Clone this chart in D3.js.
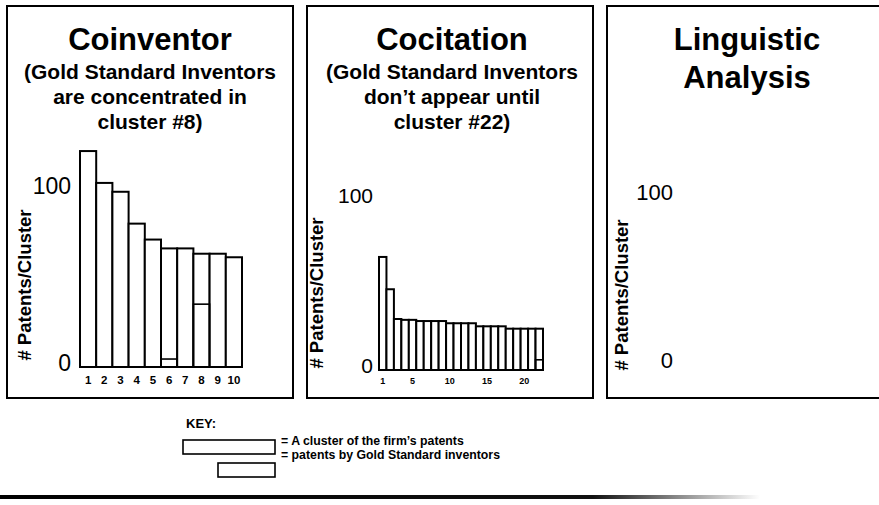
<!DOCTYPE html>
<html>
<head>
<meta charset="utf-8">
<script src="https://cdn.jsdelivr.net/npm/d3@7"></script>
<style>
  body { margin: 0; background: #fff; }
  svg { display: block; font-family: "Liberation Sans", Arial, sans-serif; }
</style>
</head>
<body>
<div id="chart"></div>
<script>
// cluster sizes
const coinventorClusters = [1, 2, 3, 4, 5, 6, 7, 8, 9, 10];
const coinventorCounts = [122, 104, 99, 81, 72, 67, 67, 64, 64, 62];
const coinventorGold = [0, 0, 0, 0, 0, 4.5, 0, 35.5, 0, 0];
const coinventorTicks = [1, 2, 3, 4, 5, 6, 7, 8, 9, 10];

const cocitationClusters = [1, 2, 3, 4, 5, 6, 7, 8, 9, 10, 11, 12, 13, 14, 15, 16, 17, 18, 19, 20, 21, 22];
const cocitationCounts = [66.5, 47.5, 30, 29.5, 29.5, 28.8, 28.8, 28.8, 28.8, 27.5, 27.5, 27.5, 27.5,
                          25.7, 25.7, 25.7, 25.7, 24.3, 24.3, 24.3, 24.3, 24.3];
const cocitationGold = [0, 0, 0, 0, 0, 0, 0, 0, 0, 0, 0, 0, 0, 0, 0, 0, 0, 0, 0, 0, 0, 6];
const cocitationTicks = [1, 5, 10, 15, 20];

const yTicks = [0, 100];
const yLabel = '# Patents/Cluster';

const panels = [
    { x0: 7, title: ['Coinventor'], sub: ['(Gold Standard Inventors', 'are concentrated in', 'cluster #8)'], cx: 150 },
    { x0: 307, title: ['Cocitation'], sub: ['(Gold Standard Inventors', 'don\u2019t appear until', 'cluster #22)'], cx: 452 },
    { x0: 607, title: ['Linguistic', 'Analysis'], sub: [], cx: 747 }
];

const svg = d3.select('#chart')
    .append('svg')
    .attr('width', 879)
    .attr('height', 505);

// panel frames and titles
panels.forEach((p, i) => {
    svg.append('rect')
        .attr('x', p.x0)
        .attr('y', 6)
        .attr('width', 286)
        .attr('height', 392)
        .attr('fill', 'none')
        .attr('stroke', '#000')
        .attr('stroke-width', 2);

    p.title.forEach((t, j) => {
        svg.append('text')
            .attr('x', p.cx)
            .attr('y', 50 + j * 38)
            .attr('text-anchor', 'middle')
            .attr('font-size', 31)
            .attr('font-weight', 'bold')
            .text(t);
    });

    p.sub.forEach((t, j) => {
        svg.append('text')
            .attr('x', p.cx)
            .attr('y', 79 + j * 25)
            .attr('text-anchor', 'middle')
            .attr('font-size', 21)
            .attr('font-weight', 'bold')
            .text(t);
    });
});

function yAxis(scale, x, size) {
    const g = svg.append('g')
        .attr('transform', `translate(${x}, 0)`)
        .call(d3.axisLeft(scale).tickValues(yTicks).tickSize(0).tickPadding(0));
    g.select('.domain').remove();
    g.selectAll('text')
        .attr('font-size', size)
        .attr('font-family', '"Liberation Sans", Arial, sans-serif')
        .attr('fill', '#000')
        .attr('dy', '0.14em');
}

function xAxis(scale, y, ticks, size, pad) {
    const g = svg.append('g')
        .attr('transform', `translate(0, ${y})`)
        .call(d3.axisBottom(scale).tickValues(ticks).tickSize(0).tickPadding(pad));
    g.select('.domain').remove();
    g.selectAll('text')
        .attr('font-size', size)
        .attr('font-weight', 'bold')
        .attr('font-family', '"Liberation Sans", Arial, sans-serif')
        .attr('fill', '#000');
}

function bars(x, y, clusters, counts, gold) {
    svg.append('g')
        .selectAll('rect')
        .data(clusters)
        .join('rect')
        .attr('x', (d) => x(d))
        .attr('y', (d, i) => y(counts[i]))
        .attr('width', x.bandwidth())
        .attr('height', (d, i) => y(0) - y(counts[i]))
        .attr('fill', '#fff')
        .attr('stroke', '#000')
        .attr('stroke-width', 2);

    svg.append('g')
        .selectAll('rect')
        .data(clusters.filter((d, i) => gold[i] > 0))
        .join('rect')
        .attr('x', (d) => x(d))
        .attr('y', (d) => y(gold[clusters.indexOf(d)]))
        .attr('width', x.bandwidth())
        .attr('height', (d) => y(0) - y(gold[clusters.indexOf(d)]))
        .attr('fill', 'none')
        .attr('stroke', '#000')
        .attr('stroke-width', 1.6);
}

function axisTitle(x, y) {
    svg.append('text')
        .attr('transform', `translate(${x}, ${y}) rotate(-90)`)
        .attr('text-anchor', 'middle')
        .attr('font-size', 18.5)
        .attr('font-weight', 'bold')
        .text(yLabel);
}

// Coinventor
const x1 = d3.scaleBand().domain(coinventorClusters).range([80, 242]).padding(0);
const y1 = d3.scaleLinear().domain([0, 100]).range([367, 190]);
bars(x1, y1, coinventorClusters, coinventorCounts, coinventorGold);
yAxis(y1, 71, 23);
xAxis(x1, y1(0), coinventorTicks, 11.5, 9);
axisTitle(31, 285);

// Cocitation
const x2 = d3.scaleBand().domain(cocitationClusters).range([379, 543]).padding(0);
const y2 = d3.scaleLinear().domain([0, 100]).range([370, 200]);
bars(x2, y2, cocitationClusters, cocitationCounts, cocitationGold);
yAxis(y2, 373, 21);
xAxis(x2, y2(0), cocitationTicks, 9, 8);
axisTitle(323, 293);

// Linguistic Analysis (no bars)
const y3 = d3.scaleLinear().domain([0, 100]).range([364, 196]);
yAxis(y3, 673, 22);
axisTitle(628, 295);

// key
svg.append('text')
    .attr('x', 186)
    .attr('y', 428)
    .attr('font-size', 13)
    .attr('font-weight', 'bold')
    .text('KEY:');

svg.append('rect')
    .attr('x', 183).attr('y', 440)
    .attr('width', 92).attr('height', 14)
    .attr('fill', '#fff').attr('stroke', '#000').attr('stroke-width', 1.6);

svg.append('rect')
    .attr('x', 218).attr('y', 463)
    .attr('width', 57).attr('height', 14)
    .attr('fill', '#fff').attr('stroke', '#000').attr('stroke-width', 1.6);

svg.append('text')
    .attr('x', 281).attr('y', 445)
    .attr('font-size', 12.3)
    .attr('font-weight', 'bold')
    .text('= A cluster of the firm\u2019s patents');

svg.append('text')
    .attr('x', 281).attr('y', 459)
    .attr('font-size', 12.3)
    .attr('font-weight', 'bold')
    .text('= patents by Gold Standard inventors');

// heavy rule along the bottom, fading out to the right
const grad = svg.append('defs').append('linearGradient')
    .attr('id', 'fade')
    .attr('x1', '0%').attr('x2', '100%');
grad.append('stop').attr('offset', '0%').attr('stop-color', '#000');
grad.append('stop').attr('offset', '78%').attr('stop-color', '#111');
grad.append('stop').attr('offset', '100%').attr('stop-color', '#fff');

svg.append('rect')
    .attr('x', 0).attr('y', 495)
    .attr('width', 760).attr('height', 4)
    .attr('fill', 'url(#fade)');
</script>
</body>
</html>
